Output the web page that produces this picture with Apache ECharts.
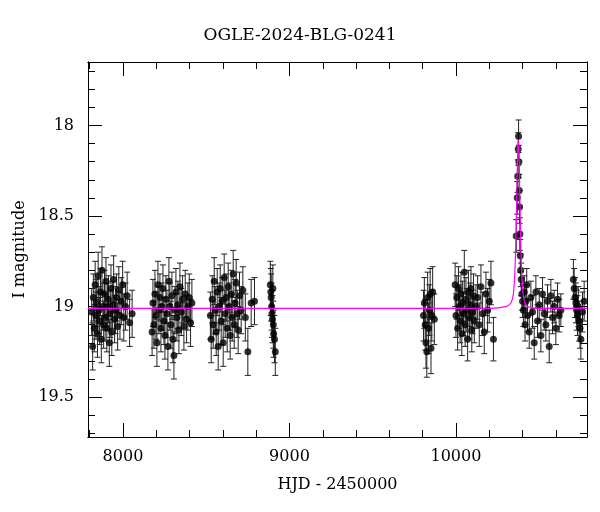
<!DOCTYPE html>
<html>
<head>
<meta charset="utf-8">
<script src="https://cdn.jsdelivr.net/npm/echarts@6/dist/echarts.min.js"></script>
<style>
  html, body { margin: 0; padding: 0; background: #fff; }
  #chart { width: 600px; height: 512px; }
</style>
</head>
<body>
<div id="chart"></div>
<script>
// OGLE photometry (HJD - 2450000, I mag)
var seasonT = [
  [7812,7818,7822,7828,7833,7838,7842,7847,7851,7856,7860,7865,7870,7874,7879,7884,7889,7893,7898,7903,7908,7913,7918,7923,7928,7933,7938,7944,7950,7956,7962,7968,7975,7982,7990,7998,8005,8015,8025,8040,8055],
  [8175,8180,8186,8192,8198,8204,8210,8216,8222,8228,8234,8240,8246,8252,8258,8264,8270,8276,8282,8288,8294,8300,8306,8312,8318,8324,8330,8336,8342,8350,8358,8366,8374,8382,8390,8398,8406,8414],
  [8525,8530,8536,8542,8548,8554,8560,8566,8572,8578,8584,8590,8596,8602,8608,8614,8620,8626,8632,8638,8644,8650,8656,8662,8668,8674,8680,8686,8692,8700,8710,8720,8735,8750,8770,8790],
  [8885,8888,8890,8893,8895,8898,8900,8903,8905,8910,8915],
  [9805,9810,9815,9820,9825,9830,9835,9840,9845,9850,9855,9860,9870],
  [9995,10000,10005,10010,10015,10020,10025,10030,10035,10040,10045,10050,10055,10060,10065,10070,10075,10080,10085,10090,10095,10100,10105,10110,10120,10130,10140,10150,10160,10170,10180,10190,10200,10210,10225],
  [10362,10368,10371,10374,10376,10378,10380,10382,10384,10386,10389,10392,10396,10400,10405,10410,10415,10420,10425,10430,10440,10450,10460,10470,10480,10490,10500,10510,10520,10530,10540,10550,10560,10570,10580,10590,10600,10610,10620,10630],
  [10705,10710,10715,10720,10725,10730,10735,10740,10745,10750,10760,10770]
];
var seasonMag = [
  [19.03,19.22,18.95,19.12,18.88,19.05,18.98,19.15,18.83,19.02,19.08,18.92,19.18,18.80,19.00,19.10,18.93,19.06,18.86,19.12,19.00,18.96,19.20,19.04,18.90,19.14,18.99,18.85,19.07,19.02,18.95,19.11,18.91,19.05,18.97,18.88,19.06,19.00,18.94,19.09,19.04],
  [19.14,18.98,19.10,18.93,19.05,19.20,18.88,19.02,18.95,19.12,19.00,18.90,19.08,19.16,18.96,19.04,19.22,18.86,19.00,19.10,18.94,19.18,19.27,19.02,18.92,19.06,18.99,19.13,18.89,19.03,18.96,19.11,18.93,19.07,19.00,18.95,19.09,18.98],
  [19.05,19.18,18.96,19.10,18.86,19.02,19.14,18.92,19.22,19.00,18.90,19.08,18.97,19.20,18.84,19.04,18.95,19.12,18.89,19.00,19.16,18.93,19.06,18.82,19.10,18.98,18.87,19.04,19.13,18.94,19.02,18.91,19.06,19.25,18.98,18.97],
  [18.88,18.92,18.95,19.00,19.04,19.07,18.90,19.10,19.15,19.18,19.25],
  [19.05,18.98,19.10,19.20,19.25,18.95,19.12,19.02,18.93,19.23,19.05,18.92,19.07],
  [18.88,19.05,18.95,19.12,18.90,19.00,19.08,18.93,19.15,18.98,19.04,18.81,19.10,18.96,19.02,19.18,18.92,19.06,18.99,18.90,19.13,19.03,18.94,19.08,19.00,18.95,19.10,18.89,19.04,19.14,18.93,19.02,18.97,18.87,19.18],
  [18.61,18.40,18.28,18.13,18.06,18.20,18.36,18.45,18.60,18.72,18.80,18.85,18.93,18.97,19.02,18.92,19.10,18.97,18.88,19.05,19.14,18.95,19.03,19.20,18.92,19.08,18.99,19.16,18.93,19.04,19.10,18.97,19.22,18.94,19.06,19.00,19.12,18.96,19.05,19.02],
  [18.85,18.90,18.95,18.98,19.02,19.05,19.00,19.08,19.12,19.18,19.03,18.97]
];
var seasonErr = [0.13, 0.13, 0.13, 0.13, 0.14, 0.12, 0.09, 0.11];

// microlensing model curve
var modelT = [7790, 10200, 10300, 10330, 10345, 10355, 10362, 10367, 10371, 10374, 10377, 10380, 10384, 10388, 10393, 10400, 10410, 10430, 10480, 10787];
var modelMag = [19.01, 19.01, 19.0, 18.98, 18.93, 18.78, 18.55, 18.3, 18.14, 18.08, 18.1, 18.22, 18.42, 18.6, 18.78, 18.9, 18.97, 19.0, 19.01, 19.01];

var xMajor = [8000, 9000, 10000];
var xMinor = [7800, 8200, 8400, 8600, 8800, 9200, 9400, 9600, 9800, 10200, 10400, 10600];
var yMajor = [18, 18.5, 19, 19.5];
var yMinor = [17.7, 17.8, 17.9, 18.1, 18.2, 18.3, 18.4, 18.6, 18.7, 18.8, 18.9, 19.1, 19.2, 19.3, 19.4, 19.6, 19.7];

var points = [];
seasonT.forEach(function (ts, s) {
  ts.forEach(function (t, i) { points.push([t, seasonMag[s][i], seasonErr[s]]) });
});
var model = modelT.map(function (t, i) { return [t, modelMag[i]] });

var FONT = 'DejaVu Serif';
function xAx(pos, vals, len, labels) {
  return {
    type: 'value', position: pos, min: 7790, max: 10787,
    axisLine: { show: true, lineStyle: { color: '#000', width: 1 } },
    axisTick: { show: true, inside: true, length: len, customValues: vals, lineStyle: { color: '#000' } },
    axisLabel: { show: labels, customValues: vals, color: '#000', fontFamily: FONT, fontSize: 16, margin: 12,
      formatter: function (v) { return String(v) } },
    splitLine: { show: false }
  };
}
function yAx(pos, vals, len, labels) {
  return {
    type: 'value', position: pos, min: 17.65, max: 19.72, inverse: true,
    axisLine: { show: true, lineStyle: { color: '#000', width: 1 } },
    axisTick: { show: true, inside: true, length: len, customValues: vals, lineStyle: { color: '#000' } },
    axisLabel: { show: labels, customValues: vals, color: '#000', fontFamily: FONT, fontSize: 16, margin: 14,
      formatter: function (v) { return String(Math.round(v * 10) / 10) } },
    splitLine: { show: false }
  };
}

var xs = [xAx('bottom', xMajor, 14, true), xAx('bottom', xMinor, 7, false), xAx('top', xMajor, 14, false), xAx('top', xMinor, 7, false)];
xs[0].name = 'HJD - 2450000';
xs[0].nameLocation = 'middle';
xs[0].nameGap = 40;
xs[0].nameTextStyle = { color: '#000', fontFamily: FONT, fontSize: 16 };
var ys = [yAx('left', yMajor, 14, true), yAx('left', yMinor, 7, false), yAx('right', yMajor, 14, false), yAx('right', yMinor, 7, false)];
ys[0].name = 'I magnitude';
ys[0].nameLocation = 'middle';
ys[0].nameGap = 52;
ys[0].nameTextStyle = { color: '#000', fontFamily: FONT, fontSize: 16 };

var myChart = echarts.init(document.getElementById('chart'));
myChart.setOption({
  animation: false,
  backgroundColor: '#fff',
  title: {
    text: 'OGLE-2024-BLG-0241', left: 'center', top: 22,
    textStyle: { color: '#000', fontFamily: FONT, fontSize: 17, fontWeight: 'normal' }
  },
  grid: { left: 88, right: 13, top: 62, bottom: 75 },
  xAxis: xs,
  yAxis: ys,
  series: [
    {
      type: 'custom', data: points, z: 2,
      renderItem: function (params, api) {
        var x = api.value(0), y = api.value(1), e = api.value(2);
        var p1 = api.coord([x, y - e]), p2 = api.coord([x, y + e]);
        var st = { stroke: '#222', lineWidth: 1 };
        return {
          type: 'group', children: [
            { type: 'line', shape: { x1: p1[0], y1: p1[1], x2: p2[0], y2: p2[1] }, style: st },
            { type: 'line', shape: { x1: p1[0] - 3, y1: p1[1], x2: p1[0] + 3, y2: p1[1] }, style: st },
            { type: 'line', shape: { x1: p2[0] - 3, y1: p2[1], x2: p2[0] + 3, y2: p2[1] }, style: st }
          ]
        };
      }
    },
    {
      type: 'scatter', data: points, symbol: 'circle', symbolSize: 7,
      itemStyle: { color: '#000' }, z: 3
    },
    {
      type: 'line', data: model, symbol: 'none', smooth: 0.3,
      lineStyle: { color: '#ff00ff', width: 1.2 }, z: 4
    }
  ]
});
</script>
</body>
</html>
